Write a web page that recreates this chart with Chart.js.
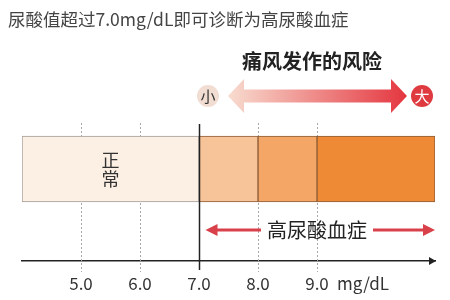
<!DOCTYPE html>
<html>
<head>
<meta charset="utf-8">
<script src="https://cdn.jsdelivr.net/npm/chart.js@4"></script>
<style>
html,body{margin:0;padding:0;background:#fff;}
#wrap{position:relative;width:450px;height:300px;}
</style>
</head>
<body>
<div id="wrap"><canvas id="c" width="450" height="300"></canvas></div>
<script>
// ---- data ----
const categories = ['正常', '7.0-8.0', '8.0-9.0', '9.0以上'];
const rangeStart = [4, 7, 8, 9];
const rangeEnd = [7, 8, 9, 11];
const segmentColors = ['#fcefe3', '#f7c398', '#f3a666', '#ee8a36'];
const segmentBorders = ['#a39d98', '#8c5c36', '#8c5c36', '#8c5c36'];
const tickValues = [5, 6, 7, 8, 9, 9.78];
const tickLabels = ['5.0', '6.0', '7.0', '8.0', '9.0', 'mg/dL'];
const gridValues = [5, 6, 8, 9];
const thresholdValue = 7;
const axisMin = 4, axisMax = 11;
const titleText = '尿酸值超过7.0mg/dL即可诊断为高尿酸血症';
const riskTitle = '痛风发作的风险';
const riskLow = '小', riskHigh = '大';
const normalLabel = '正常';
const hyperLabel = '高尿酸血症';

const FONT = '"Noto Sans CJK SC", "Noto Sans", sans-serif';

const datasets = categories.map((name, i) => ({
  label: name,
  data: [[rangeStart[i], rangeEnd[i]]],
  backgroundColor: segmentColors[i],
  borderColor: segmentBorders[i],
  borderWidth: 1,
  borderSkipped: false,
  barThickness: 66
}));

const decor = {
  id: 'decor',
  beforeDatasetsDraw(chart) {
    const ctx = chart.ctx, x = chart.scales.x;
    ctx.save();
    ctx.strokeStyle = '#a8a8a8';
    ctx.lineWidth = 1;
    ctx.setLineDash([2, 2]);
    gridValues.forEach(v => {
      const px = Math.round(x.getPixelForValue(v)) + 0.5;
      ctx.beginPath(); ctx.moveTo(px, 123); ctx.lineTo(px, 272); ctx.stroke();
    });
    ctx.restore();
  },
  afterDatasetsDraw(chart) {
    const ctx = chart.ctx, x = chart.scales.x, area = chart.chartArea;
    ctx.save();
    // threshold line
    const tx = Math.round(x.getPixelForValue(thresholdValue)) + 0.5;
    ctx.strokeStyle = '#222'; ctx.lineWidth = 1.5;
    ctx.beginPath(); ctx.moveTo(tx, 124); ctx.lineTo(tx, 270); ctx.stroke();
    // axis arrowhead
    const ay = x.top;
    ctx.fillStyle = '#222';
    ctx.beginPath(); ctx.moveTo(area.right + 1, ay); ctx.lineTo(area.right - 6, ay - 4); ctx.lineTo(area.right - 6, ay + 4); ctx.closePath(); ctx.fill();
    // normal label (vertical)
    const nx = x.getPixelForValue((rangeStart[0] + rangeEnd[0]) / 2);
    ctx.fillStyle = '#333';
    ctx.font = '18px ' + FONT;
    ctx.textAlign = 'center'; ctx.textBaseline = 'middle';
    ctx.fillText(normalLabel[0], nx, 160);
    ctx.fillText(normalLabel[1], nx, 179);
    // hyperuricemia arrow
    const ly = 230, left = tx + 6, right = area.right;
    const cx = x.getPixelForValue(9);
    ctx.font = '20px ' + FONT;
    const tw = ctx.measureText(hyperLabel).width;
    ctx.fillStyle = '#222';
    ctx.fillText(hyperLabel, cx, ly);
    ctx.strokeStyle = '#d9414a'; ctx.fillStyle = '#d9414a'; ctx.lineWidth = 3;
    ctx.beginPath(); ctx.moveTo(left + 8, ly); ctx.lineTo(cx - tw / 2 - 6, ly); ctx.stroke();
    ctx.beginPath(); ctx.moveTo(cx + tw / 2 + 6, ly); ctx.lineTo(right - 8, ly); ctx.stroke();
    ctx.beginPath(); ctx.moveTo(left, ly); ctx.lineTo(left + 12, ly - 6); ctx.lineTo(left + 12, ly + 6); ctx.closePath(); ctx.fill();
    ctx.beginPath(); ctx.moveTo(right, ly); ctx.lineTo(right - 12, ly - 6); ctx.lineTo(right - 12, ly + 6); ctx.closePath(); ctx.fill();
    ctx.restore();
  },
  afterDraw(chart) {
    const ctx = chart.ctx;
    ctx.save();
    // title
    ctx.fillStyle = '#444';
    ctx.font = '17.5px ' + FONT;
    ctx.textAlign = 'left'; ctx.textBaseline = 'middle';
    ctx.fillText(titleText, 8, 19);
    // risk title
    ctx.fillStyle = '#222';
    ctx.font = 'bold 20px ' + FONT;
    ctx.textAlign = 'center';
    ctx.fillText(riskTitle, 312, 61);
    // gradient arrow
    const y = 96, x0 = 228, x1 = 407, hw = 6.5, hh = 17, hl = 16;
    const g = ctx.createLinearGradient(x0, 0, x1, 0);
    g.addColorStop(0, '#f8dccf');
    g.addColorStop(1, '#e4363f');
    ctx.fillStyle = g;
    ctx.beginPath();
    ctx.moveTo(x0, y);
    ctx.lineTo(x0 + hl, y - hh);
    ctx.lineTo(x0 + hl, y - hw);
    ctx.lineTo(x1 - hl, y - hw);
    ctx.lineTo(x1 - hl, y - hh);
    ctx.lineTo(x1, y);
    ctx.lineTo(x1 - hl, y + hh);
    ctx.lineTo(x1 - hl, y + hw);
    ctx.lineTo(x0 + hl, y + hw);
    ctx.lineTo(x0 + hl, y + hh);
    ctx.closePath();
    ctx.fill();
    // circles
    ctx.fillStyle = '#f2ddd3';
    ctx.beginPath(); ctx.arc(208, 96, 11, 0, Math.PI * 2); ctx.fill();
    ctx.fillStyle = '#df3a40';
    ctx.beginPath(); ctx.arc(422, 96, 11, 0, Math.PI * 2); ctx.fill();
    ctx.font = '15px ' + FONT;
    ctx.fillStyle = '#333';
    ctx.fillText(riskLow, 208, 96);
    ctx.fillStyle = '#fff';
    ctx.fillText(riskHigh, 422, 96);
    ctx.restore();
  }
};

new Chart(document.getElementById('c'), {
  type: 'bar',
  data: { labels: ['尿酸值'], datasets },
  options: {
    indexAxis: 'y',
    responsive: false,
    animation: false,
    layout: { padding: { left: 22, right: 15, top: 77, bottom: 0 } },
    plugins: { legend: { display: false }, tooltip: { enabled: false } },
    scales: {
      y: { display: false, stacked: true },
      x: {
        type: 'linear', min: axisMin, max: axisMax,
        grid: { display: false, drawTicks: false },
        border: { display: true, color: '#222', width: 1.5 },
        afterBuildTicks(s) { s.ticks = tickValues.map(v => ({ value: v })); },
        afterFit(s) { s.height = 39; },
        ticks: {
          autoSkip: false, maxRotation: 0, padding: 12,
          color: '#333', font: { family: FONT, size: 17 },
          callback(v) { const i = tickValues.indexOf(v); return i >= 0 ? tickLabels[i] : ''; }
        }
      }
    }
  },
  plugins: [decor]
});
</script>
</body>
</html>
